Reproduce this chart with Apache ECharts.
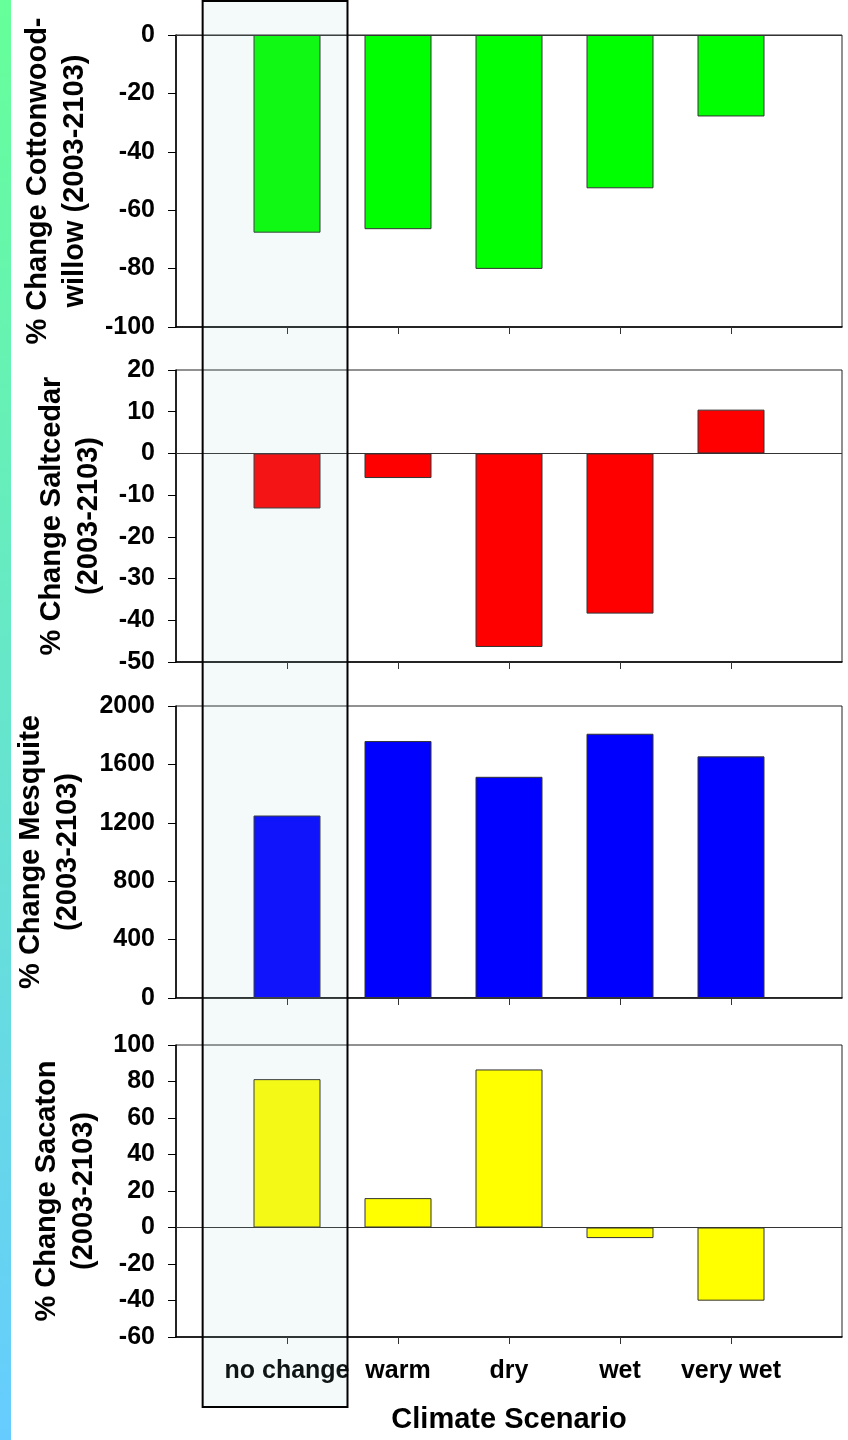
<!DOCTYPE html>
<html>
<head>
<meta charset="utf-8">
<script src="https://cdn.jsdelivr.net/npm/echarts@6/dist/echarts.min.js"></script>
<style>
  html, body { margin: 0; padding: 0; background: #fff; }
  #chart { width: 848px; height: 1440px; }
</style>
</head>
<body>
<div id="chart"></div>
<script>
// Climate scenarios (x categories)
const scenarios = ['no change', 'warm', 'dry', 'wet', 'very wet'];

// % change 2003-2103 per vegetation type
const cottonwoodWillow = [-67.7, -66.5, -80.1, -52.5, -27.9];
const saltcedar = [-13.2, -5.9, -46.4, -38.4, 10.5];
const mesquite = [1250, 1760, 1515, 1810, 1655];
const sacaton = [81.3, 16.1, 86.6, -5.8, -40.1];

// y-axis ranges and tick steps
const yMins = [-100, -50, 0, -60];
const yMaxs = [0, 20, 2000, 100];
const yIntervals = [20, 10, 400, 20];

// y-axis titles
const yTitles = [
  '% Change Cottonwood-\nwillow (2003-2103)',
  '% Change Saltcedar\n(2003-2103)',
  '% Change Mesquite\n(2003-2103)',
  '% Change Sacaton\n(2003-2103)'
];
const xTitle = 'Climate Scenario';

const panels = [cottonwoodWillow, saltcedar, mesquite, sacaton];
const barColors = ['#00ff00', '#ff0000', '#0000ff', '#ffff00'];

// layout
const gridTops = [35, 370, 706, 1045];
const gridHeight = 292;
const nameGaps = [83, 68, 90, 73];
const FONT = '"Liberation Sans", Arial, sans-serif';

const chart = echarts.init(document.getElementById('chart'), null, { renderer: 'canvas' });

const grids = [], xAxes = [], yAxes = [], series = [];
panels.forEach((vals, i) => {
  grids.push({
    left: 176, right: 6, top: gridTops[i], height: gridHeight,
    show: true, borderColor: '#222', borderWidth: 1, backgroundColor: 'transparent'
  });
  const last = i === panels.length - 1;
  xAxes.push({
    type: 'value', gridIndex: i, min: 0, max: scenarios.length + 1, interval: 1,
    axisLine: { show: true, onZero: false, lineStyle: { color: '#000', width: 1.5 } },
    axisTick: { show: true, length: 7, customValues: scenarios.map((_, k) => k + 1),
                lineStyle: { color: '#333', width: 1 } },
    axisLabel: {
      show: last, margin: 22, customValues: scenarios.map((_, k) => k + 1),
      formatter: v => scenarios[v - 1] || '',
      color: '#000', fontFamily: FONT, fontWeight: 'bold', fontSize: 25
    },
    splitLine: { show: false },
    name: last ? xTitle : '', nameLocation: 'middle', nameGap: 68,
    nameTextStyle: { color: '#000', fontFamily: FONT, fontWeight: 'bold', fontSize: 29 }
  });
  yAxes.push({
    type: 'value', gridIndex: i, min: yMins[i], max: yMaxs[i], interval: yIntervals[i],
    axisLine: { show: true, onZero: false, lineStyle: { color: '#000', width: 1.5 } },
    axisTick: { show: true, length: 8, lineStyle: { color: '#000', width: 1 } },
    axisLabel: { margin: 21, color: '#000', fontFamily: FONT, fontWeight: 'bold', fontSize: 25,
                 formatter: v => String(v) },
    splitLine: { show: false },
    name: yTitles[i], nameLocation: 'middle', nameRotate: 90, nameGap: nameGaps[i],
    nameTextStyle: { color: '#000', fontFamily: FONT, fontWeight: 'bold', fontSize: 29,
                     lineHeight: 37, align: 'center' }
  });
  series.push({
    type: 'bar', xAxisIndex: i, yAxisIndex: i, barWidth: 67,
    data: vals.map((v, k) => [k + 1, v]),
    itemStyle: { color: barColors[i], borderColor: '#333', borderWidth: 1 },
    markLine: {
      silent: true, symbol: 'none', label: { show: false },
      lineStyle: { color: '#333', width: 1, type: 'solid' },
      data: [{ yAxis: 0 }], animation: false
    },
    animation: false
  });
});

chart.setOption({
  backgroundColor: '#fff',
  animation: false,
  grid: grids, xAxis: xAxes, yAxis: yAxes, series: series
});

// Decorations: colour strip at the left edge and the frame highlighting the "no change" scenario
const hlLeft = chart.convertToPixel({ xAxisIndex: 0 }, 0.24);
const hlRight = chart.convertToPixel({ xAxisIndex: 0 }, 1.545);
chart.setOption({
  graphic: [
    {
      type: 'rect', left: 0, top: 0, z: 100,
      shape: { x: 0, y: 0, width: 11, height: 1440 },
      style: {
        fill: new echarts.graphic.LinearGradient(0, 0, 0, 1, [
          { offset: 0, color: '#66ff99' },
          { offset: 1, color: '#66ccff' }
        ])
      }
    },
    {
      type: 'rect', z: 100,
      shape: { x: hlLeft, y: 1, width: hlRight - hlLeft, height: 1406 },
      style: { fill: 'rgba(150,200,210,0.1)', stroke: '#000', lineWidth: 2 }
    }
  ]
});
</script>
</body>
</html>
